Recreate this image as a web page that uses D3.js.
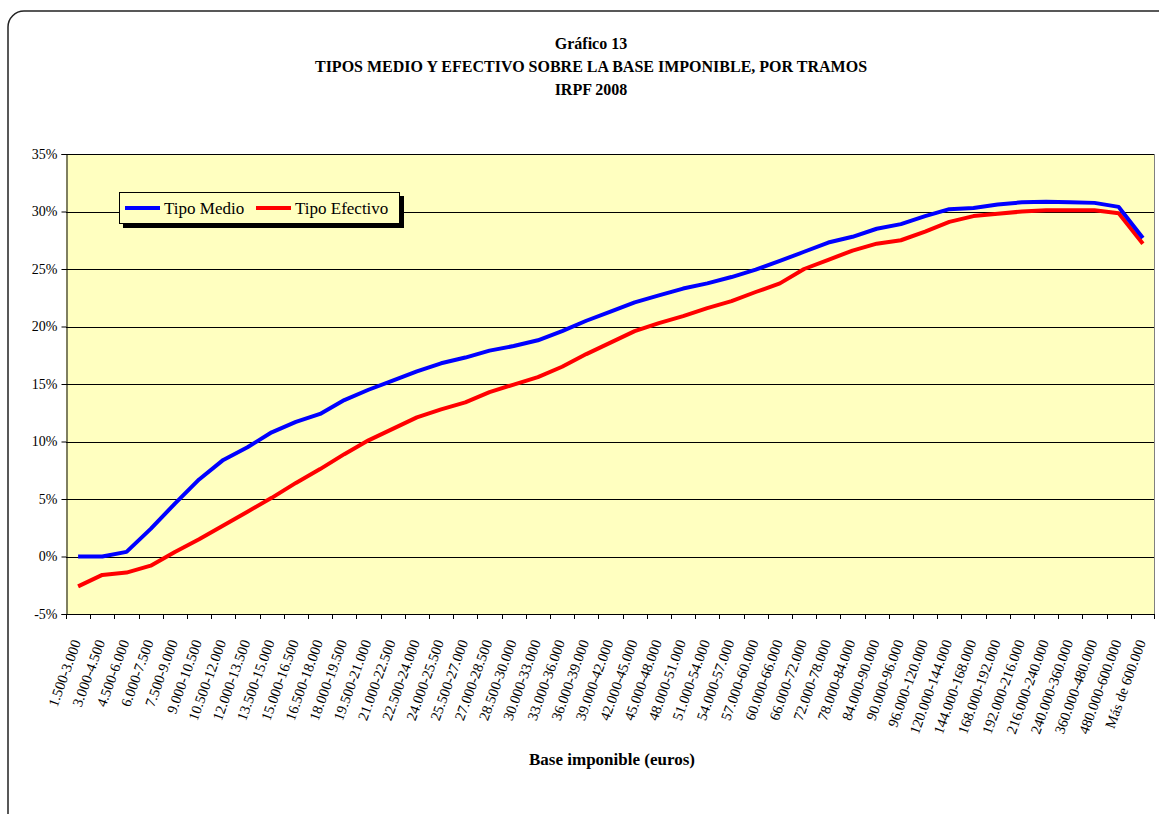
<!DOCTYPE html>
<html>
<head>
<meta charset="utf-8">
<script src="https://cdn.jsdelivr.net/npm/d3@7"></script>
<style>
  body { margin: 0; background: #fff; }
  svg text { font-family: "Liberation Serif", "Times New Roman", serif; }
</style>
</head>
<body>
<div class="chart"></div>
<script>
var svgWidth = 1159;
var svgHeight = 814;

var margin = { top: 154, right: 4, bottom: 200, left: 66 };
var width = svgWidth - margin.left - margin.right;
var height = svgHeight - margin.top - margin.bottom;

var serif = "Liberation Serif, Times New Roman, serif";

// tramos de base imponible
var tramos = [
  "1.500-3.000", "3.000-4.500", "4.500-6.000", "6.000-7.500", "7.500-9.000",
  "9.000-10.500", "10.500-12.000", "12.000-13.500", "13.500-15.000", "15.000-16.500",
  "16.500-18.000", "18.000-19.500", "19.500-21.000", "21.000-22.500", "22.500-24.000",
  "24.000-25.500", "25.500-27.000", "27.000-28.500", "28.500-30.000", "30.000-33.000",
  "33.000-36.000", "36.000-39.000", "39.000-42.000", "42.000-45.000", "45.000-48.000",
  "48.000-51.000", "51.000-54.000", "54.000-57.000", "57.000-60.000", "60.000-66.000",
  "66.000-72.000", "72.000-78.000", "78.000-84.000", "84.000-90.000", "90.000-96.000",
  "96.000-120.000", "120.000-144.000", "144.000-168.000", "168.000-192.000", "192.000-216.000",
  "216.000-240.000", "240.000-360.000", "360.000-480.000", "480.000-600.000", "Más de 600.000"
];

// Tipo medio (%)
var tipoMedio = [
  0.0, 0.0, 0.4, 2.4, 4.6, 6.7, 8.4, 9.5, 10.8, 11.7,
  12.4, 13.6, 14.5, 15.3, 16.1, 16.8, 17.3, 17.9, 18.3, 18.8,
  19.6, 20.5, 21.3, 22.1, 22.7, 23.3, 23.75, 24.3, 24.95, 25.7,
  26.5, 27.3, 27.8, 28.5, 28.9, 29.6, 30.2, 30.3, 30.6, 30.8,
  30.85, 30.8, 30.75, 30.4, 27.7
];

// Tipo efectivo (%)
var tipoEfectivo = [
  -2.6, -1.6, -1.4, -0.8, 0.4, 1.5, 2.7, 3.9, 5.1, 6.4,
  7.6, 8.9, 10.1, 11.1, 12.1, 12.8, 13.4, 14.3, 14.95, 15.6,
  16.5, 17.6, 18.6, 19.6, 20.3, 20.9, 21.6, 22.2, 23.0, 23.75,
  25.0, 25.8, 26.6, 27.2, 27.5, 28.25, 29.1, 29.6, 29.8, 30.0,
  30.1, 30.1, 30.1, 29.85, 27.2
];

var yTicks = [-5, 0, 5, 10, 15, 20, 25, 30, 35];

var svg = d3.select(".chart")
  .append("svg")
  .attr("width", svgWidth)
  .attr("height", svgHeight)
  .attr("font-family", serif);

// outer rounded frame
svg.append("rect")
  .attr("x", 8)
  .attr("y", 11)
  .attr("width", 1170)
  .attr("height", 830)
  .attr("rx", 16)
  .attr("fill", "none")
  .attr("stroke", "#222")
  .attr("stroke-width", 1.5);

// titles
var titles = ["Gráfico 13", "TIPOS MEDIO Y EFECTIVO SOBRE LA BASE IMPONIBLE, POR TRAMOS", "IRPF 2008"];
svg.selectAll(".title")
  .data(titles)
  .enter()
  .append("text")
  .attr("class", "title")
  .attr("x", 591)
  .attr("y", (d, i) => 49 + i * 23)
  .attr("text-anchor", "middle")
  .attr("font-family", serif)
  .attr("font-size", "16px")
  .attr("font-weight", "bold")
  .text(d => d);

var chartGroup = svg.append("g")
  .attr("transform", `translate(${margin.left}, ${margin.top})`);

var xScale = d3.scaleBand()
  .domain(tramos)
  .range([0, width]);

var yScale = d3.scaleLinear()
  .domain([-5, 35])
  .range([height, 0]);

// plot background
chartGroup.append("rect")
  .attr("width", width)
  .attr("height", height)
  .attr("fill", "#ffffc0");

// gridlines
chartGroup.append("g")
  .selectAll("line")
  .data(yTicks)
  .enter()
  .append("line")
  .attr("x1", 0)
  .attr("x2", width)
  .attr("y1", d => Math.round(yScale(d)) + 0.5)
  .attr("y2", d => Math.round(yScale(d)) + 0.5)
  .attr("stroke", "#000")
  .attr("stroke-width", 1);

// right border of plot
chartGroup.append("line")
  .attr("x1", width - 0.5)
  .attr("x2", width - 0.5)
  .attr("y1", 0)
  .attr("y2", height)
  .attr("stroke", "#808080");

// y axis
var leftAxis = d3.axisLeft(yScale)
  .tickValues(yTicks)
  .tickSize(5)
  .tickPadding(4)
  .tickFormat(d => d + "%");

var yAxis = chartGroup.append("g")
  .attr("transform", "translate(0.5, 0)")
  .call(leftAxis)
  .attr("font-family", serif)
  .attr("font-size", null);
yAxis.selectAll("text").attr("font-size", "14px").attr("fill", "#000");
yAxis.selectAll("line").attr("stroke", "#000");
yAxis.select(".domain").attr("stroke", "#000");

// x axis: ticks at band boundaries
var xAxisG = chartGroup.append("g")
  .attr("transform", `translate(0, ${height})`);

xAxisG.append("line")
  .attr("x1", 0)
  .attr("x2", width)
  .attr("y1", 0.5)
  .attr("y2", 0.5)
  .attr("stroke", "#000");

xAxisG.selectAll(".tick-b")
  .data(tramos)
  .enter()
  .append("line")
  .attr("class", "tick-b")
  .attr("x1", d => Math.round(xScale(d)) + 0.5)
  .attr("x2", d => Math.round(xScale(d)) + 0.5)
  .attr("y1", 0)
  .attr("y2", 5)
  .attr("stroke", "#000");

xAxisG.append("line")
  .attr("x1", width - 0.5)
  .attr("x2", width - 0.5)
  .attr("y1", 0)
  .attr("y2", 5)
  .attr("stroke", "#000");

xAxisG.selectAll(".xlabel")
  .data(tramos)
  .enter()
  .append("text")
  .attr("class", "xlabel")
  .attr("text-anchor", "end")
  .attr("font-family", serif)
  .attr("font-size", "14.5px")
  .attr("transform", d => `translate(${xScale(d) + xScale.bandwidth() / 2 + 3}, 28) rotate(-70)`)
  .text(d => d);

// axis title
svg.append("text")
  .attr("x", 612)
  .attr("y", 765)
  .attr("text-anchor", "middle")
  .attr("font-family", serif)
  .attr("font-size", "17px")
  .attr("font-weight", "bold")
  .text("Base imponible (euros)");

// lines
var lineGen = d3.line()
  .x((d, i) => xScale(tramos[i]) + xScale.bandwidth() / 2)
  .y(d => yScale(d));

var series = [
  { name: "Tipo Medio", values: tipoMedio, color: "#0000ff" },
  { name: "Tipo Efectivo", values: tipoEfectivo, color: "#ff0000" }
];

chartGroup.selectAll(".serie")
  .data(series.slice().reverse())
  .enter()
  .append("path")
  .attr("class", "serie")
  .attr("d", d => lineGen(d.values))
  .attr("fill", "none")
  .attr("stroke", d => d.color)
  .attr("stroke-width", 4)
  .attr("stroke-linejoin", "round");

// legend
var legend = svg.append("g")
  .attr("transform", "translate(119, 192)");

legend.append("rect")
  .attr("x", 4)
  .attr("y", 4)
  .attr("width", 281)
  .attr("height", 32)
  .attr("fill", "#000");

legend.append("rect")
  .attr("x", 0.5)
  .attr("y", 0.5)
  .attr("width", 280)
  .attr("height", 31)
  .attr("fill", "#ffffc0")
  .attr("stroke", "#000");

var legendItems = legend.selectAll(".item")
  .data(series)
  .enter()
  .append("g")
  .attr("class", "item")
  .attr("transform", (d, i) => `translate(${i === 0 ? 6 : 137}, 16)`);

legendItems.append("line")
  .attr("x1", 0)
  .attr("x2", 35)
  .attr("stroke", d => d.color)
  .attr("stroke-width", 4);

legendItems.append("text")
  .attr("x", 39)
  .attr("y", 6)
  .attr("font-family", serif)
  .attr("font-size", "17px")
  .text(d => d.name);
</script>
</body>
</html>
